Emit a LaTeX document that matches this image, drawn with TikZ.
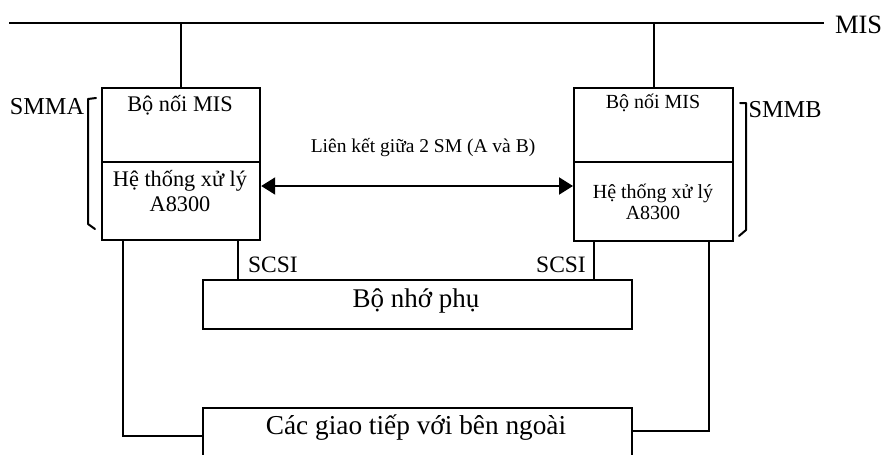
\documentclass[tikz,border=0pt]{standalone}
\usepackage{fontspec}
\setmainfont{Liberation Serif}
\usetikzlibrary{arrows.meta}
\begin{document}
\begin{tikzpicture}[x=1pt,y=-1pt,
  line width=2pt, line cap=rect,
  box/.style={draw, line width=2.2pt, inner sep=0pt, anchor=north west},
  txt/.style={inner sep=0pt, font=\fontsize{#1}{#1}\selectfont},
  txt/.default=21,
  link/.style={line width=2pt},
  brk/.style={line width=2pt, line cap=round, line join=round}]
\useasboundingbox (0,0) rectangle (884,455);
\clip (0,0) rectangle (884,455);

% MIS bus
\coordinate (busL) at (10,23);
\coordinate (busR) at (823,23);
\draw[link] (busL) -- (busR);
\node[txt=26.5, anchor=west] (mis) at (834,25) {MIS};

% SMMA unit
\node[box, minimum width=158, minimum height=74] (lt) at (101,87) {};
\node[box, minimum width=158, minimum height=78] (lb) at (101,161) {};
\node[txt=22.3] (ltx) at (180,105) {Bộ nối MIS};
\node[txt=22.3] (lbx1) at (180,181) {Hệ thống xử lý};
\node[txt=22.3] (lbx2) at (180,204) {A8300};

% SMMB unit
\node[box, minimum width=159, minimum height=74] (rt) at (573,87) {};
\node[box, minimum width=159, minimum height=79] (rb) at (573,161) {};
\node[txt=20] (rtx) at (653,103) {Bộ nối MIS};
\node[txt=20] (rbx1) at (653,193) {Hệ thống xử lý};
\node[txt=20] (rbx2) at (653,213) {A8300};

% bus drops
\draw[link] (lt.north) -- (lt.north |- busL);
\draw[link] (rt.north) -- (rt.north |- busL);

% group labels with brackets
\node[txt=24.3] (smma) at (47,107) {SMMA};
\node[txt=24.3] (smmb) at (785,110) {SMMB};
\coordinate (ba1) at (96,98);
\coordinate (ba2) at (95,229);
\draw[brk] (ba1) -- (88,99) -- (88,224) -- (ba2);
\coordinate (bb1) at (740,103);
\coordinate (bb2) at (739,236);
\draw[brk] (bb1) -- (746,103) -- (746,230) -- (bb2);

% link between the two SMs
\coordinate (ya) at (0,186);
\draw[link, line cap=butt, {Triangle[length=14pt,width=17pt]}-{Triangle[length=14pt,width=17pt]}]
  (lb.east |- ya) -- (rb.west |- ya);
\node[txt=19.5] (lnk) at (423,148) {Liên kết giữa 2 SM (A và B)};

% secondary storage on SCSI
\node[box, minimum width=429, minimum height=49] (mem) at (202,279) {};
\node[txt=27] (memx) at (416,301) {Bộ nhớ phụ};
\coordinate (sa) at (238,0);
\coordinate (sb) at (594,0);
\draw[link] (lb.south -| sa) -- (mem.north -| sa);
\draw[link] (rb.south -| sb) -- (mem.north -| sb);
\node[txt=23.5] (scsia) at (273,265) {SCSI};
\node[txt=23.5] (scsib) at (561,265) {SCSI};

% external interfaces
\node[box, minimum width=429, minimum height=70] (ext) at (202,407) {};
\node[txt=27.3] (extx) at (416,428) {Các giao tiếp với bên ngoài};
\coordinate (ea) at (123,436);
\coordinate (eb) at (709,431);
\draw[link] (lb.south -| ea) -- (ea) -- (ext.west |- ea);
\draw[link] (rb.south -| eb) -- (eb) -- (ext.east |- eb);
\end{tikzpicture}
\end{document}
